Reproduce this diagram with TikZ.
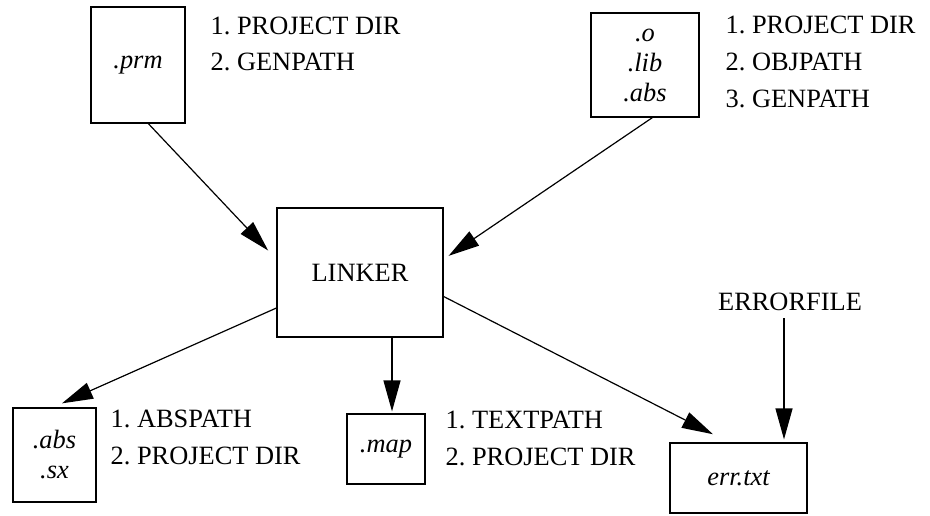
\documentclass[tikz,border=0pt]{standalone}
\usepackage{fontspec}
\setmainfont{Liberation Serif}
\usetikzlibrary{arrows.meta, positioning}
\frenchspacing

\begin{document}
\begin{tikzpicture}[x=0.5pt, y=-0.5pt, line width=0.6pt,
  font=\fontsize{13.2}{18.4}\selectfont,
  filebox/.style={draw, inner sep=0pt, align=center, font=\fontsize{13.2}{15}\selectfont\itshape},
  pathlist/.style={anchor=west, align=left, inner sep=0pt},
  arr/.style={-{Triangle[length=15.5pt, width=8.5pt]}}]

\useasboundingbox (0,0) rectangle (930,515);

% The input files
\node [filebox, minimum width=47pt, minimum height=58pt] (prm) at (138,65) {.prm};
\node [pathlist] (prmpaths) at (210,44) {1. PROJECT DIR\\2. GENPATH};

\node [filebox, minimum width=54pt, minimum height=52pt] (obj) at (645,65) {.o\\.lib\\.abs};
\node [pathlist] (objpaths) at (725,62) {1. PROJECT DIR\\2. OBJPATH\\3. GENPATH};

% The linker
\node [draw, minimum width=83pt, minimum height=64.5pt] (linker) at (360,272.5) {LINKER};

% The output files
\node [filebox, minimum width=41.5pt, minimum height=47pt] (absx) at (54.5,455) {.abs\\.sx};
\node [pathlist] (abspaths) at (110,437.5) {1. ABSPATH\\2. PROJECT DIR};

\node [filebox, minimum width=39pt, minimum height=35pt] (map) at (386,449) {.map};
\node [pathlist] (mappaths) at (445,438.5) {1. TEXTPATH\\2. PROJECT DIR};

\node [filebox, minimum width=68.5pt, minimum height=35pt] (err) at (738.5,478) {err.txt};
\node (errlbl) at (790,302) {ERRORFILE};

% Inputs into the linker
\draw [arr, shorten >=6pt] (prm.-80) -- (linker.171);
\draw [arr, shorten >=3pt] (obj.-82) -- (linker.9.4);

% Linker outputs
\draw [arr, shorten >=5pt] (linker.203.8) -- (absx.92.8);
\draw [arr, shorten >=1pt] ([xshift=3pt]linker.south -| map.north) -- ([xshift=3pt]map.north);
\draw [arr, shorten >=9pt] (linker.-16.3) -- (err.105);
\draw [arr, shorten >=1.5pt] ([xshift=-3pt]errlbl.south) -- ([xshift=-3pt]errlbl.south |- err.north);

\end{tikzpicture}
\end{document}
